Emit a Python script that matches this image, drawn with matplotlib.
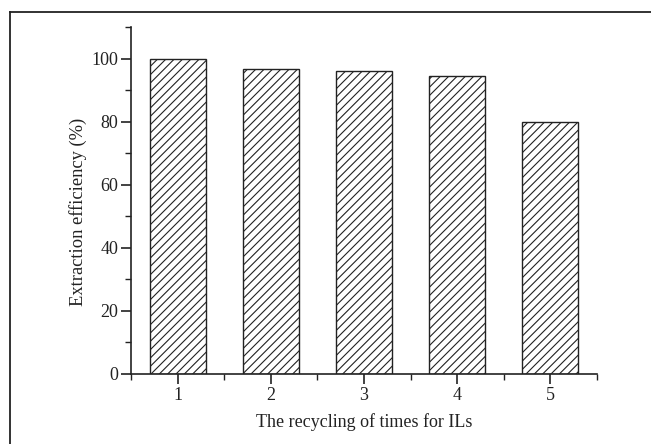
import matplotlib
matplotlib.use("Agg")
import matplotlib.pyplot as plt
from matplotlib.lines import Line2D
from matplotlib.ticker import MultipleLocator

plt.rcParams['font.family'] = ['Liberation Serif', 'DejaVu Serif']
plt.rcParams['hatch.linewidth'] = 0.8

cycles = [1, 2, 3, 4, 5]
efficiency = [100.0, 96.6, 96.2, 94.4, 79.8]
x_label = "The recycling of times for ILs"
y_label = "Extraction efficiency (%)"

W, H = 651, 444
fig = plt.figure(figsize=(W/100, H/100), dpi=100)
ax = fig.add_axes([131/W, 1-374/H, (597-131)/W, (374-27)/H])

ax.bar(cycles, efficiency, width=0.6, facecolor='white', edgecolor='#222222',
       linewidth=1.0, hatch='////')

ax.set_xlim(0.5, 5.5)
ax.set_ylim(0, 110)
ax.set_xticks(cycles)
ax.set_yticks([0, 20, 40, 60, 80, 100])
ax.xaxis.set_minor_locator(MultipleLocator(0.5))
ax.yaxis.set_minor_locator(MultipleLocator(10))
for s in ['top', 'right']:
    ax.spines[s].set_visible(False)
for s in ['left', 'bottom']:
    ax.spines[s].set_linewidth(1.2)
    ax.spines[s].set_color('#222222')
ax.tick_params(which='major', direction='out', length=7, width=1.2, labelsize=13, colors='#222222')
ax.tick_params(which='minor', direction='out', length=4, width=1.0, colors='#222222')
ax.tick_params(axis='x', pad=2)
ax.tick_params(axis='y', pad=2)
ax.set_xlabel(x_label, fontsize=13, color='#222222')
ax.set_ylabel(y_label, fontsize=13.3, color='#222222')
ax.xaxis.set_label_coords(0.5, -(422-374)/347, transform=ax.transAxes)
ax.yaxis.set_label_coords(-(131-78)/466, (374-212)/347, transform=ax.transAxes)
ax.xaxis.label.set_va('center')
ax.yaxis.label.set_va('center')

# outer frame lines (top and left)
fig.add_artist(Line2D([10/W, 1], [1-12/H, 1-12/H], color='#222222', lw=1.3, transform=fig.transFigure))
fig.add_artist(Line2D([10/W, 10/W], [0, 1-12/H], color='#222222', lw=1.3, transform=fig.transFigure))

fig.savefig('out.png', dpi=100)
